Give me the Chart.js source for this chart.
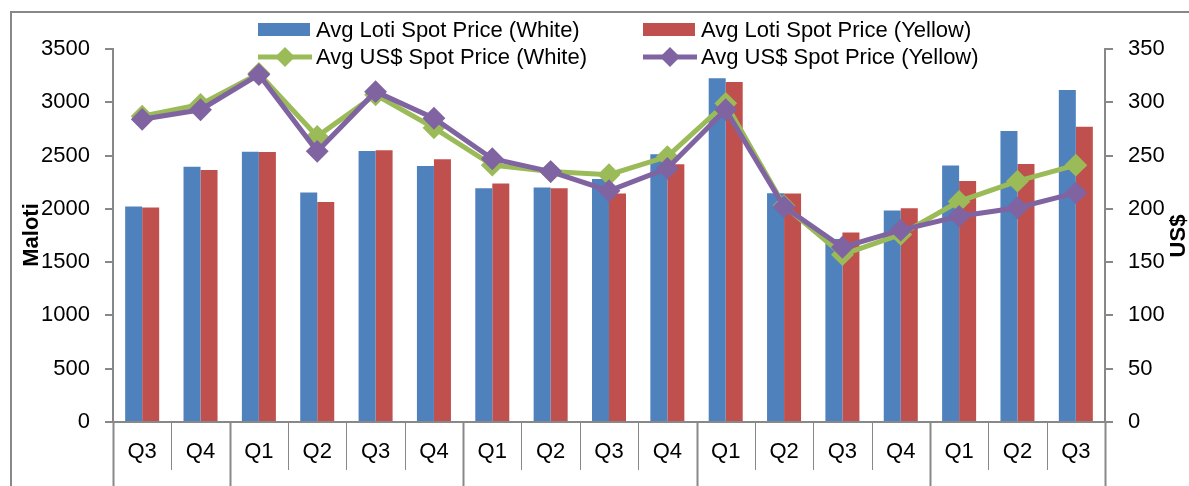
<!DOCTYPE html>
<html>
<head>
<meta charset="utf-8">
<script src="https://cdn.jsdelivr.net/npm/chart.js@4.4.1/dist/chart.umd.min.js"></script>
<style>
  html, body { margin: 0; padding: 0; background: #fff; }
  #wrap { width: 1189px; height: 486px; position: relative; }
</style>
</head>
<body>
<div id="wrap"><canvas id="chart"></canvas></div>
<script>
const categories = ['Q3', 'Q4', 'Q1', 'Q2', 'Q3', 'Q4', 'Q1', 'Q2', 'Q3', 'Q4', 'Q1', 'Q2', 'Q3', 'Q4', 'Q1', 'Q2', 'Q3'];
const lotiWhite = [2021, 2396, 2537, 2153, 2543, 2403, 2194, 2200, 2281, 2513, 3225, 2147, 1716, 1984, 2406, 2731, 3115];
const lotiYellow = [2012, 2365, 2534, 2065, 2550, 2466, 2237, 2194, 2143, 2419, 3190, 2143, 1778, 2006, 2262, 2422, 2771];
const usdWhite = [287, 298, 327, 268, 307, 276, 241, 235, 232, 249, 299, 203, 157, 176, 207, 226, 241];
const usdYellow = [284, 293, 326, 254, 310, 285, 247, 235, 217, 238, 293, 202, 164, 180, 193, 201, 215];
// category index where a new year starts (long separator lines)
const yearStarts = [0, 2, 6, 10, 14];

const FONT = '"Liberation Sans", Arial, sans-serif';
const GREY = '#888888';

// frame, year separators, axis titles and the two-column legend
const extras = {
  id: 'extras',
  afterDraw(chart) {
    const { ctx, chartArea: area, scales } = chart;
    const x = scales.x;
    ctx.save();

    ctx.strokeStyle = GREY;
    ctx.lineWidth = 2;
    ctx.beginPath();
    ctx.moveTo(11, chart.height);
    ctx.lineTo(11, 12);
    ctx.lineTo(chart.width, 12);
    ctx.stroke();

    const n = categories.length;
    for (let i = 0; i <= n; i++) {
      const px = i === 0 ? area.left : i === n ? area.right : (x.getPixelForValue(i - 1) + x.getPixelForValue(i)) / 2;
      const long = i === n || yearStarts.includes(i);
      ctx.lineWidth = long ? 2 : 1;
      ctx.strokeStyle = GREY;
      ctx.beginPath();
      ctx.moveTo(Math.round(px) + 0.5, area.bottom);
      ctx.lineTo(Math.round(px) + 0.5, long ? chart.height : 470);
      ctx.stroke();
    }

    ctx.fillStyle = '#000';
    ctx.font = 'bold 22px ' + FONT;
    ctx.textAlign = 'center';
    ctx.textBaseline = 'middle';
    ctx.save();
    ctx.translate(32, 235);
    ctx.rotate(-Math.PI / 2);
    ctx.fillText('Maloti', 0, 0);
    ctx.restore();
    ctx.save();
    ctx.translate(1179, 236);
    ctx.rotate(-Math.PI / 2);
    ctx.fillText('US$', 0, 0);
    ctx.restore();

    // legend
    const cols = [258, 643];
    const rows = [30, 57];
    ctx.font = '22px ' + FONT;
    ctx.textAlign = 'left';
    chart.data.datasets.forEach((ds, i) => {
      const cx = cols[i % 2];
      const cy = rows[Math.floor(i / 2)];
      if (ds.type === 'line') {
        ctx.strokeStyle = ds.borderColor;
        ctx.lineWidth = 5;
        ctx.beginPath();
        ctx.moveTo(cx, cy);
        ctx.lineTo(cx + 54, cy);
        ctx.stroke();
        ctx.fillStyle = ds.borderColor;
        ctx.beginPath();
        ctx.moveTo(cx + 27 - 10, cy);
        ctx.lineTo(cx + 27, cy - 10);
        ctx.lineTo(cx + 27 + 10, cy);
        ctx.lineTo(cx + 27, cy + 10);
        ctx.closePath();
        ctx.fill();
      } else {
        ctx.fillStyle = ds.backgroundColor;
        ctx.fillRect(cx, cy - 7, 52, 13);
      }
      ctx.fillStyle = '#000';
      ctx.fillText(ds.label, cx + 58, cy + 1);
    });

    ctx.restore();
  }
};

const lineSet = (label, data, color, order) => ({
  type: 'line',
  label,
  data,
  yAxisID: 'y1',
  borderColor: color,
  backgroundColor: color,
  borderWidth: 5,
  pointStyle: 'rectRot',
  pointRadius: 10,
  pointBorderWidth: 2,
  pointBackgroundColor: color,
  pointBorderColor: color,
  tension: 0,
  order,
});

const plain = v => String(v);

new Chart(document.getElementById('chart'), {
  type: 'bar',
  data: {
    labels: categories,
    datasets: [
      { label: 'Avg Loti Spot Price (White)', data: lotiWhite, backgroundColor: '#4F81BD', yAxisID: 'y', order: 3 },
      { label: 'Avg Loti Spot Price (Yellow)', data: lotiYellow, backgroundColor: '#C0504D', yAxisID: 'y', order: 3 },
      lineSet('Avg US$ Spot Price (White)', usdWhite, '#9BBB59', 1),
      lineSet('Avg US$ Spot Price (Yellow)', usdYellow, '#8064A2', 0),
    ],
  },
  options: {
    responsive: true,
    maintainAspectRatio: false,
    animation: false,
    datasets: { bar: { categoryPercentage: 0.583, barPercentage: 1.0 } },
    layout: { padding: { left: 41, right: 24, top: 49, bottom: 0 } },
    plugins: { legend: { display: false }, tooltip: { enabled: false } },
    scales: {
      x: {
        grid: { display: false, drawTicks: false },
        border: { display: true, color: GREY, width: 2 },
        ticks: { color: '#000', font: { family: FONT, size: 22 }, padding: 17 },
        afterFit: s => { s.height = 64; },
      },
      y: {
        position: 'left',
        min: 0, max: 3500,
        ticks: { stepSize: 500, color: '#000', font: { family: FONT, size: 22 }, padding: 15, callback: plain },
        grid: { drawOnChartArea: false, drawTicks: true, tickLength: 8, color: GREY, lineWidth: 2 },
        border: { display: true, color: GREY, width: 2 },
        afterFit: s => { s.width = 72; },
      },
      y1: {
        position: 'right',
        min: 0, max: 350,
        ticks: { stepSize: 50, color: '#000', font: { family: FONT, size: 22 }, padding: 15, callback: plain },
        grid: { drawOnChartArea: false, drawTicks: true, tickLength: 8, color: GREY, lineWidth: 2 },
        border: { display: true, color: GREY, width: 2 },
        afterFit: s => { s.width = 60; },
      },
    },
  },
  plugins: [extras],
});
</script>
</body>
</html>
